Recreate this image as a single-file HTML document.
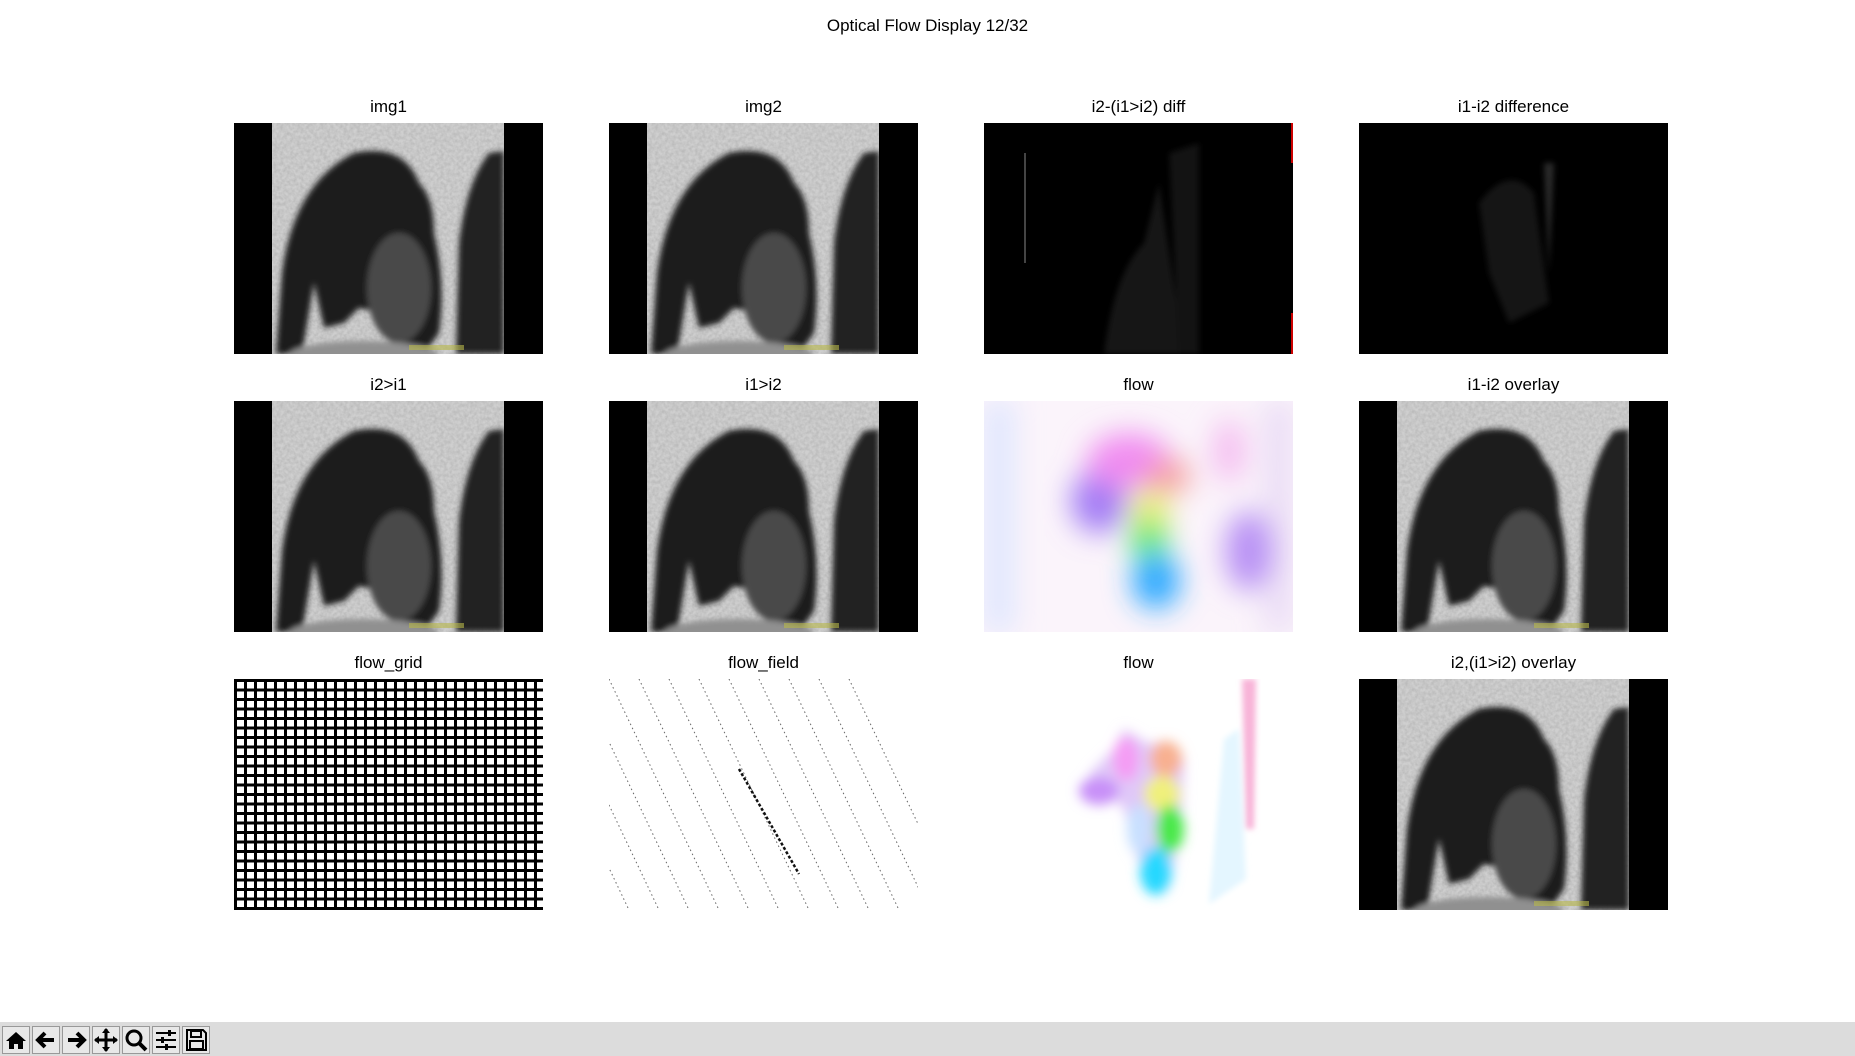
<!DOCTYPE html>
<html><head><meta charset="utf-8">
<style>
html,body{margin:0;padding:0;background:#fff;}
body{width:1855px;height:1056px;position:relative;overflow:hidden;font-family:"Liberation Sans","DejaVu Sans",sans-serif;}
.title{position:absolute;left:0;width:1855px;top:16px;text-align:center;font-size:17px;color:#000;}
.ptitle{position:absolute;width:309px;text-align:center;font-size:17px;color:#000;}
.panel{position:absolute;width:309px;height:231px;overflow:hidden;}
.panel svg{display:block}
.toolbar{position:absolute;left:0;top:1022px;width:1855px;height:34px;background:#dcdcdc;}
.btn{position:absolute;top:4px;width:28px;height:28px;}
</style></head>
<body>
<div class="title">Optical Flow Display 12/32</div>

<svg width="0" height="0" style="position:absolute">
<defs>
<filter id="blur3"><feGaussianBlur stdDeviation="3"/></filter>
<filter id="blur6" x="-50%" y="-50%" width="200%" height="200%"><feGaussianBlur stdDeviation="6"/></filter>
<filter id="blur14" x="-50%" y="-50%" width="200%" height="200%"><feGaussianBlur stdDeviation="14"/></filter>
<filter id="noise" x="0" y="0" width="1" height="1"><feTurbulence type="fractalNoise" baseFrequency="0.3" numOctaves="2" seed="3"/><feColorMatrix type="matrix" values="0 0 0 0 0.45  0 0 0 0 0.45  0 0 0 0 0.45  0 0 0 1.8 -0.5"/></filter>
<pattern id="grid" width="10" height="9.5" patternUnits="userSpaceOnUse"><rect width="10" height="9.5" fill="#fff"/><rect x="0" y="0" width="10" height="3" fill="#000"/><rect x="0" y="0" width="3" height="9.5" fill="#000"/></pattern>
<g id="bear">
<rect x="0" y="0" width="309" height="231" fill="#000"/>
<rect x="38" y="0" width="232" height="231" fill="#cfcfcf"/>
<rect x="38" y="0" width="232" height="231" filter="url(#noise)" opacity="0.7"/>
<g filter="url(#blur3)">
<path d="M42 231 L48 150 Q60 60 120 30 Q170 20 185 60 Q200 75 200 110 Q212 160 205 210 L190 231 L160 231 L150 190 L125 185 L110 200 L90 205 L80 160 L68 231 Z" fill="#1e1e1e"/>
<ellipse cx="165" cy="165" rx="32" ry="55" fill="#4a4a4a"/>
<ellipse cx="130" cy="232" rx="75" ry="14" fill="#909090"/>
<path d="M222 231 L225 120 Q232 60 255 30 L270 28 L270 231 Z" fill="#222"/>
</g>
<rect x="270" y="0" width="39" height="231" fill="#000"/>
<rect x="175" y="222" width="55" height="5" fill="#b8b84a" opacity="0.6"/>
</g>
</defs>
</svg>

<div class="ptitle" style="left:234px;top:97px">img1</div>
<div class="panel" style="left:234px;top:123px"><svg width="309" height="231"><use href="#bear"/></svg></div>

<div class="ptitle" style="left:609px;top:97px">img2</div>
<div class="panel" style="left:609px;top:123px"><svg width="309" height="231"><use href="#bear"/></svg></div>

<div class="ptitle" style="left:984px;top:97px">i2-(i1&gt;i2) diff</div>
<div class="panel" style="left:984px;top:123px;background:#000"><svg width="309" height="231">
<g filter="url(#blur3)" opacity="0.45"><path d="M120 231 Q130 150 160 120 L175 60 L200 231 Z" fill="#333"/><path d="M185 30 L215 20 L215 231 L195 231 Z" fill="#2a2a2a"/></g>
<rect x="40" y="30" width="2" height="110" fill="#444"/>
<rect x="307" y="0" width="2" height="40" fill="#c00"/><rect x="307" y="190" width="2" height="41" fill="#c00"/></svg></div>

<div class="ptitle" style="left:1359px;top:97px">i1-i2 difference</div>
<div class="panel" style="left:1359px;top:123px;background:#000"><svg width="309" height="231">
<g filter="url(#blur3)" opacity="0.5"><path d="M120 80 Q150 40 175 70 L190 180 L150 200 L130 150 Z" fill="#2a2a2a"/><path d="M185 40 L195 40 L190 150 Z" fill="#555"/></g></svg></div>

<div class="ptitle" style="left:234px;top:375px">i2&gt;i1</div>
<div class="panel" style="left:234px;top:401px"><svg width="309" height="231"><use href="#bear"/></svg></div>

<div class="ptitle" style="left:609px;top:375px">i1&gt;i2</div>
<div class="panel" style="left:609px;top:401px"><svg width="309" height="231"><use href="#bear"/></svg></div>

<div class="ptitle" style="left:984px;top:375px">flow</div>
<div class="panel" style="left:984px;top:401px;background:#fbf4fb"><svg width="309" height="231">
<g filter="url(#blur14)">
<rect x="0" y="0" width="30" height="231" fill="#d8e4ff" opacity="0.8"/>
<rect x="280" y="0" width="29" height="231" fill="#e6d6f4" opacity="0.8"/>
<ellipse cx="115" cy="100" rx="28" ry="32" fill="#a27cf4"/>
<ellipse cx="145" cy="60" rx="42" ry="28" fill="#f08cf0"/>
<ellipse cx="185" cy="75" rx="22" ry="18" fill="#f4a0a0"/>
<ellipse cx="165" cy="110" rx="20" ry="22" fill="#e8f070"/>
<ellipse cx="165" cy="140" rx="20" ry="22" fill="#60e870"/>
<ellipse cx="172" cy="180" rx="24" ry="28" fill="#2aa8ff"/>
<ellipse cx="265" cy="150" rx="24" ry="40" fill="#b890f4"/>
<ellipse cx="245" cy="50" rx="16" ry="32" fill="#f4bcf0"/>
</g></svg></div>

<div class="ptitle" style="left:1359px;top:375px">i1-i2 overlay</div>
<div class="panel" style="left:1359px;top:401px"><svg width="309" height="231"><use href="#bear"/></svg></div>

<div class="ptitle" style="left:234px;top:653px">flow_grid</div>
<div class="panel" style="left:234px;top:679px"><svg width="309" height="231"><rect width="309" height="231" fill="url(#grid)"/></svg></div>

<div class="ptitle" style="left:609px;top:653px">flow_field</div>
<div class="panel" style="left:609px;top:679px;background:#fff"><svg width="309" height="231" id="field"></svg></div>

<div class="ptitle" style="left:984px;top:653px">flow</div>
<div class="panel" style="left:984px;top:679px;background:#fff"><svg width="309" height="231">
<g filter="url(#blur3)">
<path d="M258 0 L272 0 L270 150 L262 150 Z" fill="#f8b4d8"/>
<path d="M240 60 L255 50 L262 200 L225 225 Z" fill="#e4f6ff"/>
</g>
<g filter="url(#blur6)">
<path d="M105 95 Q120 80 130 70 L140 50 L165 65 L185 62 L200 80 L198 140 L192 175 L185 210 L165 205 L150 170 L140 130 L125 115 L108 118 Z" fill="#e0c8f8"/>
<ellipse cx="115" cy="112" rx="20" ry="14" fill="#c890f8"/>
<ellipse cx="142" cy="80" rx="13" ry="22" fill="#f49cf4"/>
<ellipse cx="182" cy="80" rx="16" ry="18" fill="#f8b090"/>
<ellipse cx="178" cy="115" rx="18" ry="18" fill="#f0f07c"/>
<ellipse cx="186" cy="150" rx="14" ry="24" fill="#48e848"/>
<ellipse cx="172" cy="192" rx="16" ry="24" fill="#28d8ff"/>
<ellipse cx="155" cy="150" rx="12" ry="25" fill="#c8e0ff"/>
</g></svg></div>

<div class="ptitle" style="left:1359px;top:653px">i2,(i1&gt;i2) overlay</div>
<div class="panel" style="left:1359px;top:679px"><svg width="309" height="231"><use href="#bear"/></svg></div>

<div class="toolbar">
<svg class="btn" style="left:2px" viewBox="0 0 28 28"><rect x="0.5" y="0.5" width="27" height="27" fill="#e8e8e8" stroke="#999"/><path d="M4 15 L14 6 L24 15 L21 15 L21 23 L16 23 L16 18 L12 18 L12 23 L7 23 L7 15 Z" fill="#000"/></svg>
<svg class="btn" style="left:32px" viewBox="0 0 28 28"><rect x="0.5" y="0.5" width="27" height="27" fill="#e8e8e8" stroke="#999"/><path d="M22 14 H7 M13 7 L6 14 L13 21" stroke="#000" stroke-width="4" fill="none"/></svg>
<svg class="btn" style="left:62px" viewBox="0 0 28 28"><rect x="0.5" y="0.5" width="27" height="27" fill="#e8e8e8" stroke="#999"/><path d="M6 14 H21 M15 7 L22 14 L15 21" stroke="#000" stroke-width="4" fill="none"/></svg>
<svg class="btn" style="left:92px" viewBox="0 0 28 28"><rect x="0.5" y="0.5" width="27" height="27" fill="#e8e8e8" stroke="#999"/><path d="M14 3 V25 M3 14 H25" stroke="#000" stroke-width="3"/><path d="M14 2 L10 7 H18 Z M14 26 L10 21 H18 Z M2 14 L7 10 V18 Z M26 14 L21 10 V18 Z" fill="#000"/></svg>
<svg class="btn" style="left:122px" viewBox="0 0 28 28"><rect x="0.5" y="0.5" width="27" height="27" fill="#e8e8e8" stroke="#999"/><circle cx="12" cy="12" r="7" stroke="#000" stroke-width="3" fill="none"/><path d="M17 17 L24 24" stroke="#000" stroke-width="4"/></svg>
<svg class="btn" style="left:152px" viewBox="0 0 28 28"><rect x="0.5" y="0.5" width="27" height="27" fill="#e8e8e8" stroke="#999"/><path d="M4 7 H24 M4 14 H24 M4 21 H24" stroke="#000" stroke-width="2"/><rect x="16" y="4" width="3" height="6" fill="#000"/><rect x="9" y="11" width="3" height="6" fill="#000"/><rect x="13" y="18" width="3" height="6" fill="#000"/></svg>
<svg class="btn" style="left:182px" viewBox="0 0 28 28"><rect x="0.5" y="0.5" width="27" height="27" fill="#e8e8e8" stroke="#999"/><path d="M5 4 H21 L24 7 V24 H5 Z" fill="none" stroke="#000" stroke-width="2"/><rect x="9" y="5" width="10" height="6" fill="none" stroke="#000" stroke-width="2"/><rect x="8" y="15" width="13" height="8" fill="none" stroke="#000" stroke-width="2"/></svg>
</div>

<script>
// diagonal flow-field streak start x positions (panel coords)
const streakStarts = [-120,-90,-60,-30,0,30,60,90,120,150,180,210,240];
const svg = document.getElementById('field');
const NS = 'http://www.w3.org/2000/svg';
streakStarts.forEach(function(x0){
  const l = document.createElementNS(NS,'line');
  
  
  l.setAttribute('x1', x0); l.setAttribute('y1', 0);
  l.setAttribute('x2', x0+110); l.setAttribute('y2', 231);
  l.setAttribute('stroke', '#666'); l.setAttribute('stroke-width', '1');
  l.setAttribute('stroke-dasharray', '1.5 3');
  svg.appendChild(l);
});
const bold = document.createElementNS(NS,'line');


bold.setAttribute('x1', 130); bold.setAttribute('y1', 90);
bold.setAttribute('x2', 190); bold.setAttribute('y2', 195);
bold.setAttribute('stroke', '#111'); bold.setAttribute('stroke-width', '2.5');
bold.setAttribute('stroke-dasharray', '3 2');
svg.appendChild(bold);
</script>
</body></html>
